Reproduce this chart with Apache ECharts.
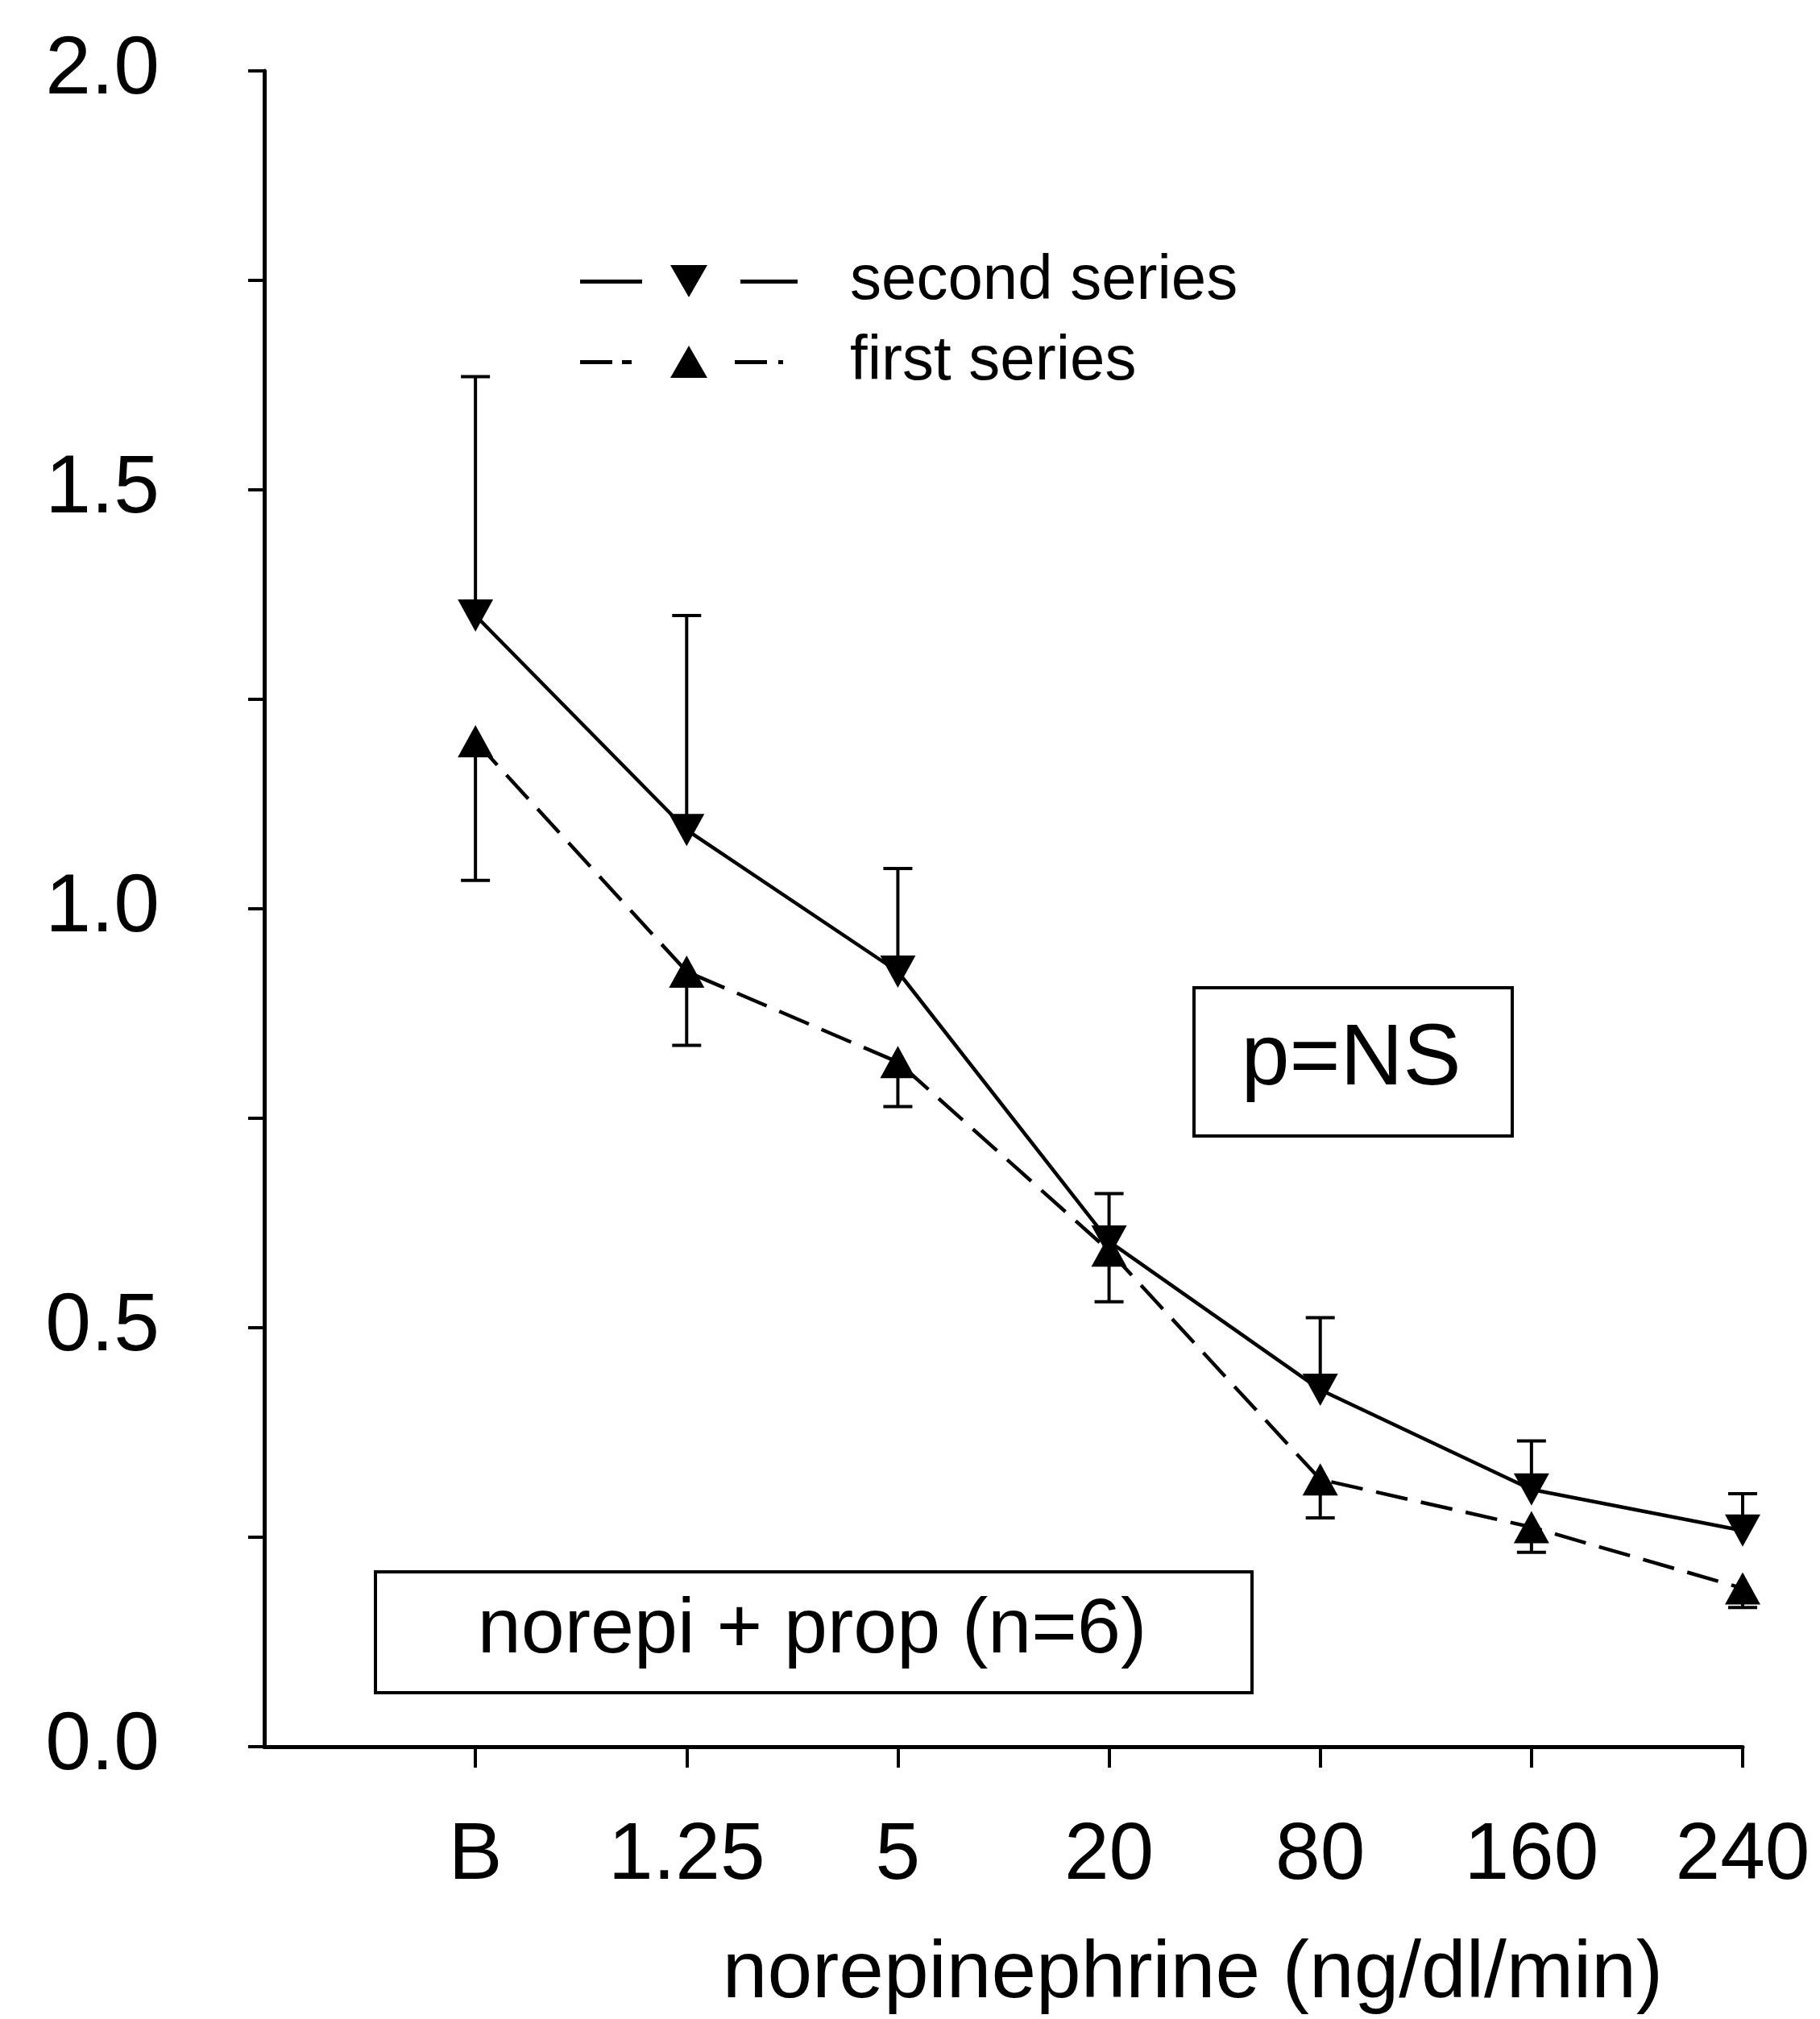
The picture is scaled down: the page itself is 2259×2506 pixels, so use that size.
<!DOCTYPE html>
<html>
<head>
<meta charset="utf-8">
<script src="https://cdn.jsdelivr.net/npm/echarts@6/dist/echarts.min.js"></script>
<style>
html,body{margin:0;padding:0;background:#fff;}
#chart{width:2259px;height:2506px;}
</style>
</head>
<body>
<div id="chart"></div>
<script>
// ---- data ----
const categories = ['B', '1.25', '5', '20', '80', '160', '240'];
const secondSeries = [1.35, 1.094, 0.925, 0.603, 0.426, 0.307, 0.258];
const secondUpper  = [1.635, 1.35, 1.048, 0.66, 0.512, 0.365, 0.302];
const firstSeries  = [1.20, 0.925, 0.817, 0.592, 0.319, 0.262, 0.189];
const firstLower   = [1.034, 0.837, 0.764, 0.531, 0.273, 0.232, 0.166];
const yTicks = [0, 0.5, 1.0, 1.5, 2.0];
const xName = 'norepinephrine (ng/dl/min)';
const boxNS = 'p=NS';
const boxGroup = 'norepi + prop (n=6)';

const FONT = 'Liberation Sans';
const chart = echarts.init(document.getElementById('chart'), null, {renderer: 'canvas'});

const pts = arr => arr.map((v, i) => [i + 1, v]);
const errData = (vals, bounds) => vals.map((v, i) => [i + 1, v, bounds[i]]);

function errRender(params, api) {
  const x = api.value(0);
  const p0 = api.coord([x, api.value(1)]);
  const p1 = api.coord([x, api.value(2)]);
  const cap = 18;
  const style = {stroke: '#000', lineWidth: 4, fill: null};
  return {
    type: 'group',
    children: [
      {type: 'line', shape: {x1: p0[0], y1: p0[1], x2: p1[0], y2: p1[1]}, style},
      {type: 'line', shape: {x1: p1[0] - cap, y1: p1[1], x2: p1[0] + cap, y2: p1[1]}, style}
    ]
  };
}

// legend keys drawn as line pieces + triangle (box 270 x 40)
const iconSecond = 'path://M0,18L77,18L77,23L0,23Z M112,0L158,0L135,40Z M199,18L270,18L270,23L199,23Z';
const iconFirst = 'path://M0,18L40,18L40,23L0,23Z M52,18L64,18L64,23L52,23Z M112,40L158,40L135,0Z M192,18L232,18L232,23L192,23Z M246,18L252,18L252,23L246,23Z M0,0L0.01,0Z M270,0L270.01,0Z';

const option = {
  backgroundColor: '#fff',
  animation: false,
  textStyle: {fontFamily: FONT, color: '#000'},
  grid: {left: 328, right: 96, top: 88, bottom: 333, containLabel: false},
  legend: {
    orient: 'vertical',
    left: 715,
    top: 305,
    itemWidth: 270,
    itemHeight: 40,
    itemGap: 22,
    symbolKeepAspect: false,
    data: [
      {name: 'second series', icon: iconSecond},
      {name: 'first series', icon: iconFirst}
    ],
    itemStyle: {color: '#000', borderWidth: 0},
    textStyle: {fontFamily: FONT, fontSize: 78, color: '#000', padding: [0, 0, 0, 60]}
  },
  xAxis: {
    type: 'value',
    min: 0,
    max: 7,
    interval: 1,
    splitLine: {show: false},
    axisLine: {show: true, lineStyle: {color: '#000', width: 5}},
    axisTick: {show: true, length: 26, lineStyle: {color: '#000', width: 4}, customValues: [1, 2, 3, 4, 5, 6, 7]},
    axisLabel: {
      show: true, margin: 86, fontSize: 100, color: '#000', fontFamily: FONT,
      customValues: [1, 2, 3, 4, 5, 6, 7],
      formatter: v => categories[Math.round(v) - 1] || ''
    },
    name: xName,
    nameLocation: 'middle',
    nameGap: 283,
    nameTextStyle: {fontSize: 100, color: '#000', fontFamily: FONT, verticalAlign: 'middle', padding: [0, 0, 0, 470]}
  },
  yAxis: {
    type: 'value',
    min: 0,
    max: 2,
    interval: 0.25,
    splitLine: {show: false},
    axisLine: {show: true, lineStyle: {color: '#000', width: 5}},
    axisTick: {show: true, length: 20, lineStyle: {color: '#000', width: 4}},
    axisLabel: {
      show: true, margin: 130, fontSize: 102, color: '#000', fontFamily: FONT,
      customValues: yTicks,
      formatter: v => v.toFixed(1)
    }
  },
  series: [
    {
      name: 'second series',
      type: 'line',
      data: pts(secondSeries),
      symbol: 'triangle',
      symbolRotate: 180,
      symbolSize: [44, 40],
      itemStyle: {color: '#000'},
      lineStyle: {color: '#000', width: 4.5, type: 'solid'},
      z: 3
    },
    {
      name: 'first series',
      type: 'line',
      data: pts(firstSeries),
      symbol: 'triangle',
      symbolSize: [44, 40],
      itemStyle: {color: '#000'},
      lineStyle: {color: '#000', width: 4.5, type: [40, 17]},
      z: 3
    },
    {
      name: 'second error',
      type: 'custom',
      renderItem: errRender,
      data: errData(secondSeries, secondUpper),
      encode: {x: 0, y: [1, 2]},
      z: 2
    },
    {
      name: 'first error',
      type: 'custom',
      renderItem: errRender,
      data: errData(firstSeries, firstLower),
      encode: {x: 0, y: [1, 2]},
      z: 2
    }
  ],
  graphic: [
    {
      type: 'rect', left: 1480, top: 1224,
      shape: {width: 395, height: 184},
      style: {fill: '#fff', stroke: '#000', lineWidth: 4}
    },
    {
      type: 'text', x: 1677, y: 1316,
      style: {text: boxNS, font: '108px "Liberation Sans"', fill: '#000', textAlign: 'center', textVerticalAlign: 'middle'}
    },
    {
      type: 'rect', left: 464, top: 1949,
      shape: {width: 1088, height: 150},
      style: {fill: '#fff', stroke: '#000', lineWidth: 4}
    },
    {
      type: 'text', x: 1008, y: 2024,
      style: {text: boxGroup, font: '97px "Liberation Sans"', fill: '#000', textAlign: 'center', textVerticalAlign: 'middle'}
    }
  ]
};
chart.setOption(option);
</script>
</body>
</html>
